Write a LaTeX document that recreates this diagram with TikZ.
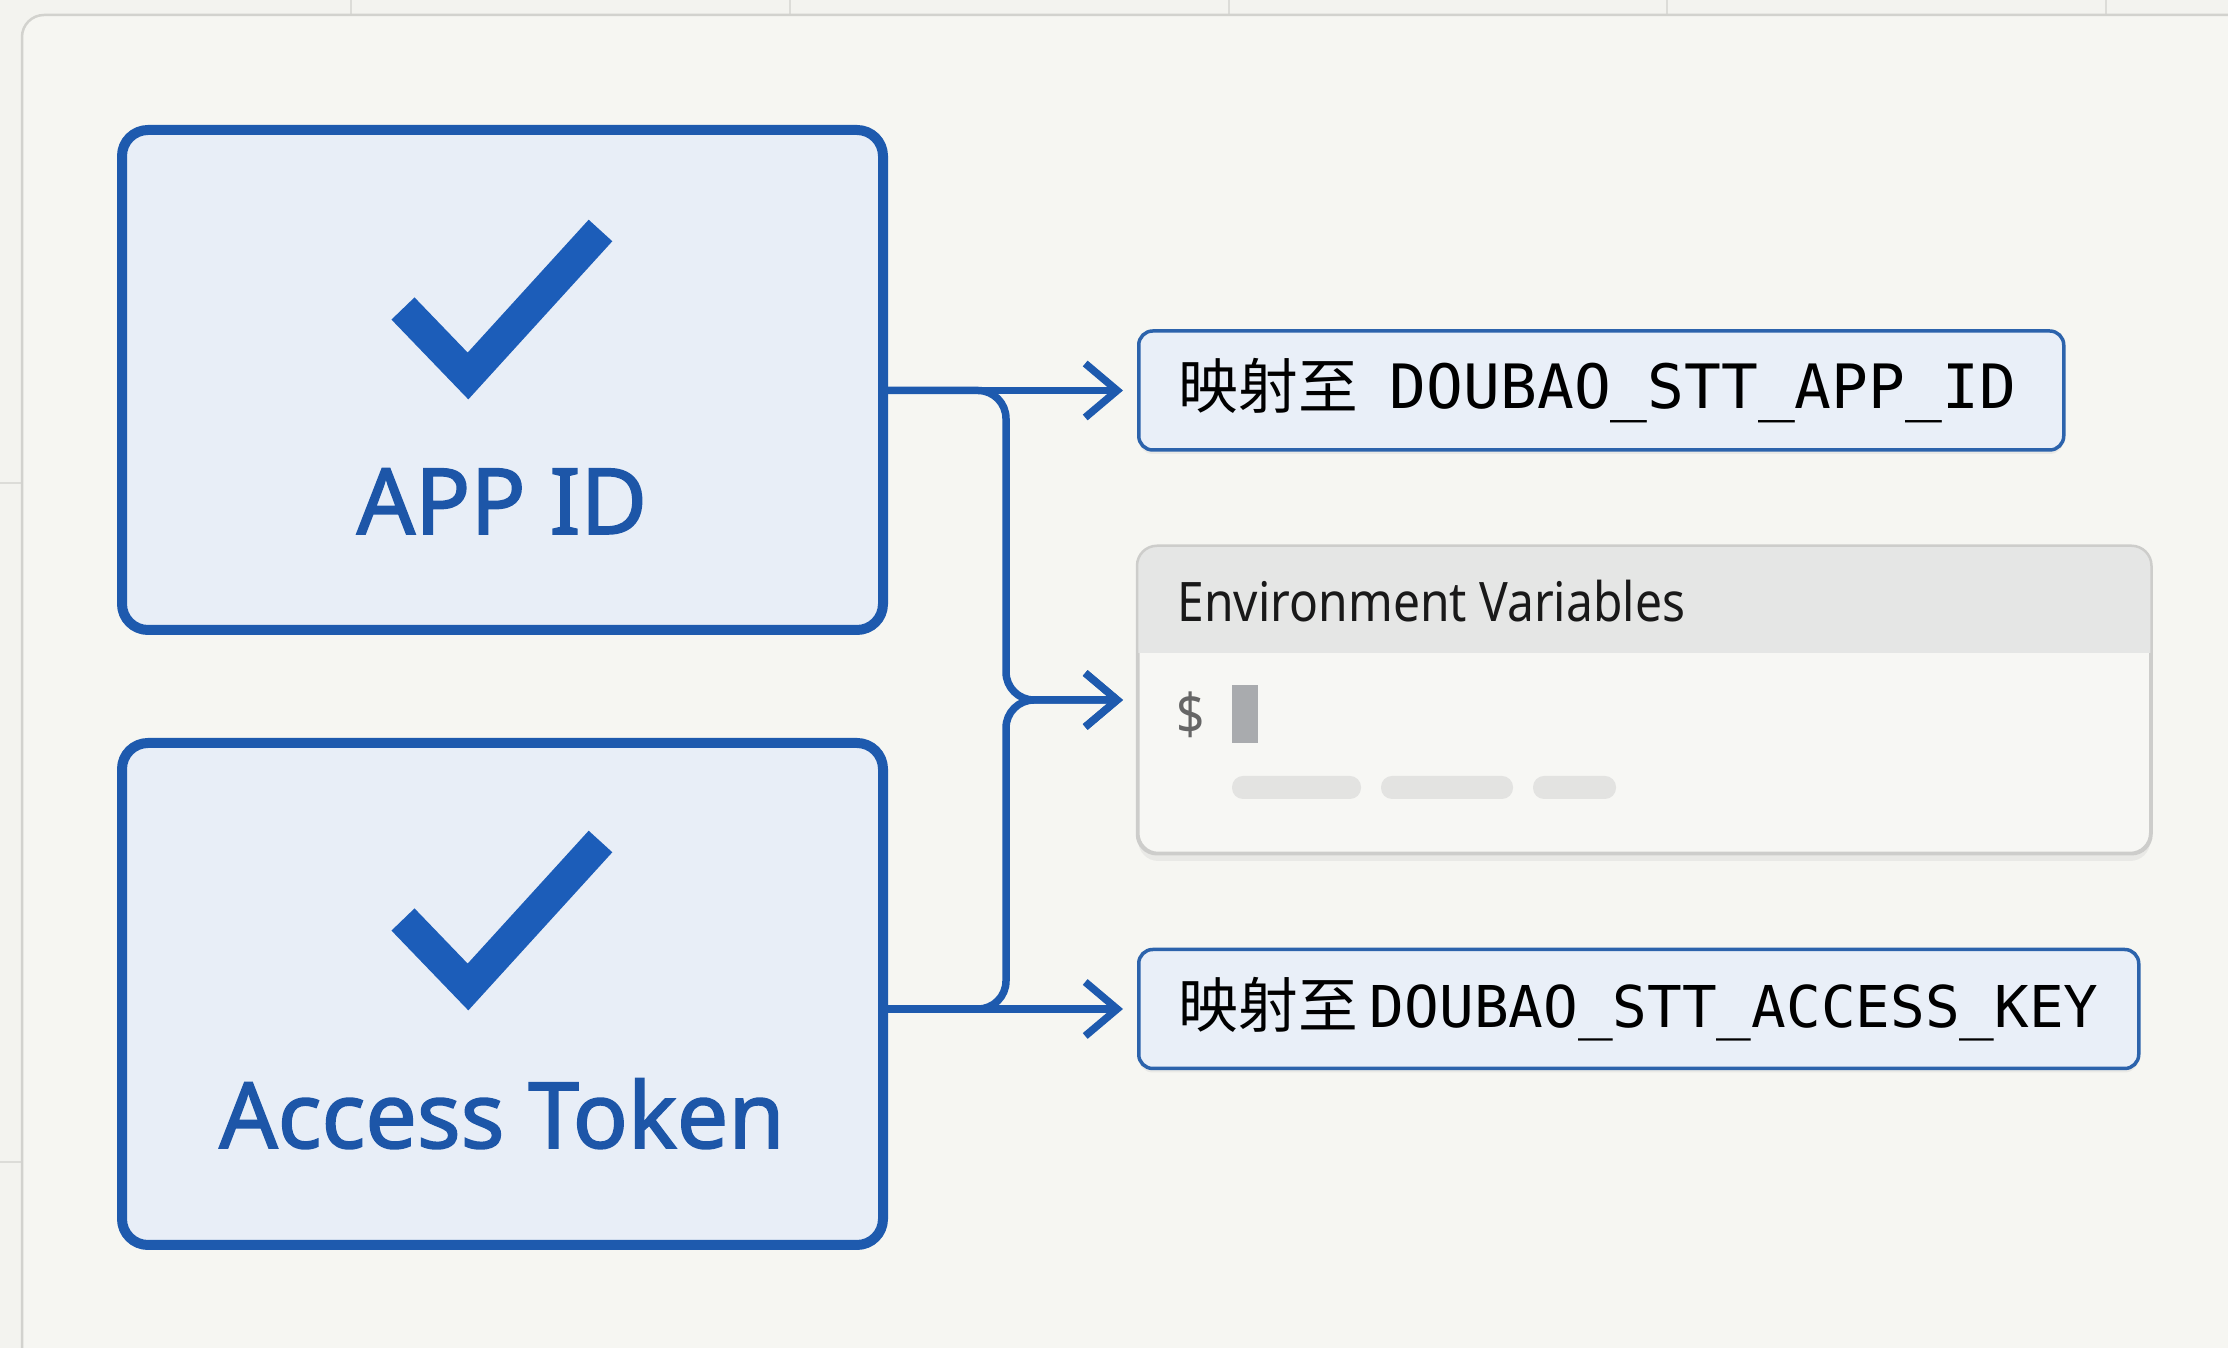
\documentclass[tikz,border=0pt]{standalone}
\usepackage{fontspec}
\setmainfont{Noto Sans}
\newfontfamily\cjkfont{Noto Sans CJK SC}
\newfontfamily\codefont{DejaVu Sans Mono}
\newfontfamily\keyfont[FakeBold=1.8]{Noto Sans}
\newfontfamily\envfont[FakeStretch=0.88]{Noto Sans}
\usepackage{tikz}
\usetikzlibrary{arrows.meta,positioning,calc,shadows}
\definecolor{keyblue}{HTML}{1E5AAE}
\definecolor{keyfill}{HTML}{E8EEF7}
\definecolor{keytext}{HTML}{1D56A8}
\definecolor{tickblue}{HTML}{1C5DB9}
\definecolor{mapline}{HTML}{2C63AC}
\definecolor{mapfill}{HTML}{E9EFF8}
\definecolor{paper}{HTML}{F3F3EF}
\definecolor{panel}{HTML}{F6F6F2}
\definecolor{panelD}{HTML}{D2D2CE}
\definecolor{gridD}{HTML}{DCDCD8}
\definecolor{envline}{HTML}{CDCDCB}
\definecolor{envhead}{HTML}{E5E6E5}
\definecolor{envbody}{HTML}{F7F7F4}
\definecolor{cursor}{HTML}{A9ABAE}
\definecolor{pill}{HTML}{E3E3E1}

\begin{document}
\begin{tikzpicture}[x=0.1mm, y=0.1mm, yscale=-1, >={Straight Barb[length=3.2mm, width=5.4mm]},
  keybox/.style={draw=keyblue, line width=1mm, fill=keyfill, rounded corners=2.6mm, minimum width=76.1mm},
  keylabel/.style={font=\keyfont\fontsize{26}{30}\selectfont, text=keytext},
  tick/.style={tickblue, line width=3.2mm},
  mapbox/.style={draw=mapline, line width=0.35mm, fill=mapfill, rounded corners=1.4mm, anchor=west,
    inner xsep=4mm, align=left, minimum height=11.9mm, font=\fontsize{17}{20}\selectfont,
    drop shadow={shadow xshift=0mm, shadow yshift=-0.4mm, opacity=0.10}},
  envbox/.style={draw=envline, line width=0.25mm, fill=envbody, rounded corners=2mm,
    drop shadow={shadow xshift=0mm, shadow yshift=-0.8mm, opacity=0.10}},
  conn/.style={draw=keyblue, line width=0.75mm, shorten >=1.4mm}]
\useasboundingbox (0,0) rectangle (2228,1348);
\clip (0,0) rectangle (2228,1348);
% background and panel
\fill[paper] (0,0) rectangle (2228,1348);
\foreach \gx in {351,790,1229,1667,2106} \draw[gridD, line width=0.2mm] (\gx,0) -- (\gx,15);
\foreach \gy in {483,1162} \draw[gridD, line width=0.2mm] (0,\gy) -- (22,\gy);
\draw[panelD, fill=panel, line width=0.25mm, rounded corners=2.2mm] (22,15) rectangle (2300,1420);

% key boxes
\node[keybox, minimum height=50mm] (app) at (502.5,380) {};
\node[keybox, minimum height=50.2mm] (acc) at (502.5,994) {};
\draw[tick] (403,308.5) -- (468,376) -- (600.5,230.5);
\draw[tick] (403,919.5) -- (468,987) -- (600.5,841.5);
\node[keylabel, anchor=base] (applabel) at (502,534) {APP ID};
\node[keylabel, anchor=base] (acclabel) at (502,1148) {Access Token};

% targets
\node[mapbox, minimum width=92.5mm, text width=84.5mm] (map1) at (1137,390.5)
  {{\cjkfont 映射至}\hspace{3.2mm}{\codefont\fontsize{17.4}{20}\selectfont DOUBAO\_STT\_APP\_ID}};
\node[mapbox, minimum width=100mm, text width=92mm] (map2) at (1137,1009)
  {{\cjkfont 映射至}\hspace{1.2mm}{\codefont\fontsize{16.4}{20}\selectfont DOUBAO\_STT\_ACCESS\_KEY}};

\node[envbox, minimum width=101.2mm, minimum height=30.6mm, anchor=west] (env) at (1137,700) {};
\begin{scope}
  \clip[rounded corners=2mm] (env.north west) rectangle (env.south east);
  \fill[envhead] (env.north west) rectangle ($(env.north east)+(0,107)$);
\end{scope}
\draw[envline, line width=0.25mm, rounded corners=2mm] (env.north west) rectangle (env.south east);
\node[anchor=west, inner sep=0pt, font=\envfont\fontsize{15.5}{18}\selectfont, text=black!90] (envtitle) at (1177,601) {Environment Variables};
\node[font=\envfont\fontsize{16}{18}\selectfont, text=black!60] (prompt) at (1191,715) {\$};
\fill[cursor] (1232,685) rectangle (1258,743);
\foreach \a/\b in {1232/1361,1381/1513,1533/1616}
  \fill[pill, rounded corners=1.1mm] (\a,776) rectangle (\b,799);

% connectors
\coordinate (hub) at (1006,700);
\draw[conn, ->] (app.east |- map1.west) -- (map1.west);
\draw[conn, ->] (acc.east |- map2.west) -- (map2.west);
\draw[conn, ->, rounded corners=2.8mm] (app.east |- map1.west) -| (hub) -- (env.west);
\draw[conn, ->, rounded corners=2.8mm] (acc.east |- map2.west) -| (hub) -- (env.west);
\end{tikzpicture}
\end{document}
